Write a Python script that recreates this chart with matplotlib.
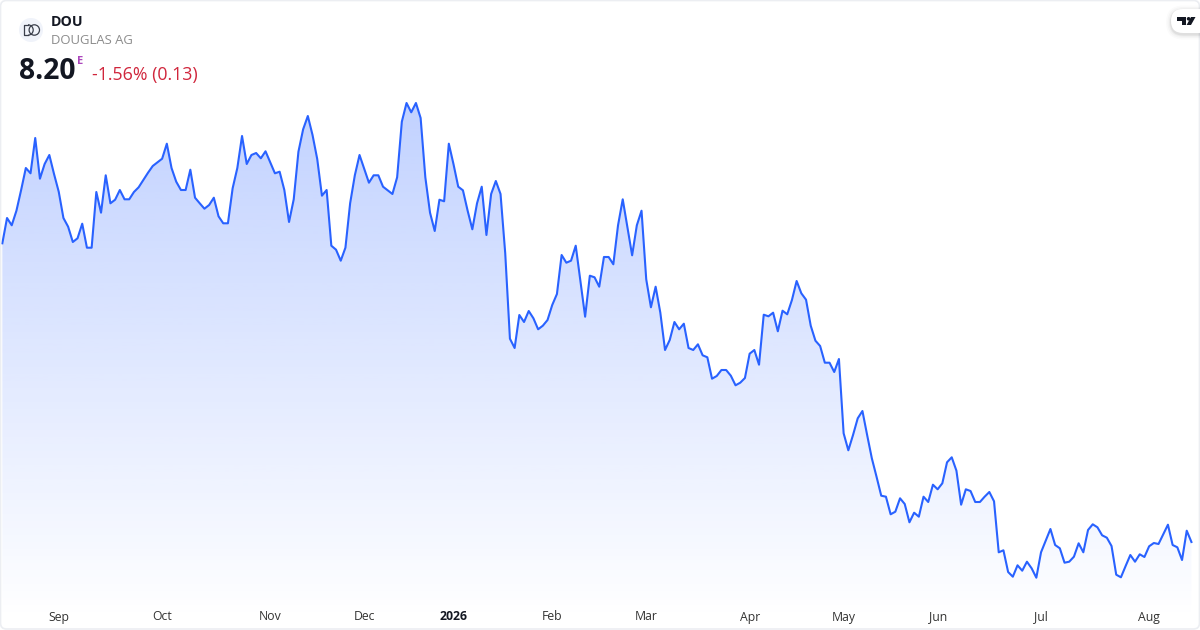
import matplotlib
matplotlib.use("Agg")
import matplotlib.pyplot as plt
import numpy as np
from matplotlib.patches import Arc, Circle, FancyBboxPatch, Polygon

plt.rcParams["font.family"] = ["Open Sans", "DejaVu Sans"]

symbol = "DOU"
company = "DOUGLAS AG"
last_price = "8.20"
change_text = "-1.56% (0.13)"

# daily closes (price scale estimated from the last value)
closes = [
    11.187, 11.44, 11.367, 11.513, 11.72, 11.94, 11.887, 12.24, 11.833, 11.98,
    12.07, 11.88, 11.703, 11.44, 11.353, 11.20, 11.237, 11.383, 11.143, 11.143,
    11.70, 11.493, 11.867, 11.587, 11.623, 11.72, 11.627, 11.627, 11.70, 11.747,
    11.82, 11.893, 11.96, 11.997, 12.033, 12.183, 11.94, 11.803, 11.72, 11.72,
    11.923, 11.643, 11.587, 11.533, 11.57, 11.643, 11.457, 11.387, 11.387, 11.737,
    11.94, 12.26, 11.98, 12.07, 12.09, 12.037, 12.107, 11.997, 11.887, 11.903,
    11.72, 11.40, 11.627, 12.103, 12.327, 12.46, 12.27, 12.03, 11.663, 11.72,
    11.163, 11.123, 11.013, 11.143, 11.587, 11.867, 12.07, 11.933, 11.793, 11.867,
    11.867, 11.753, 11.717, 11.68, 11.847, 12.403, 12.59, 12.497, 12.59, 12.44,
    11.847, 11.493, 11.31, 11.623, 11.607, 12.183, 11.977, 11.753, 11.717, 11.513,
    11.327, 11.587, 11.753, 11.27, 11.68, 11.81, 11.68, 11.087, 10.233, 10.14,
    10.47, 10.40, 10.51, 10.437, 10.327, 10.363, 10.42, 10.57, 10.68, 11.07,
    10.993, 11.013, 11.163, 10.81, 10.453, 10.863, 10.847, 10.753, 11.05, 11.05,
    10.977, 11.367, 11.627, 11.347, 11.067, 11.367, 11.513, 10.827, 10.547, 10.753,
    10.493, 10.12, 10.22, 10.40, 10.327, 10.383, 10.14, 10.12, 10.177, 10.067,
    10.047, 9.833, 9.86, 9.92, 9.92, 9.863, 9.767, 9.793, 9.84, 10.083,
    10.12, 9.973, 10.473, 10.457, 10.493, 10.307, 10.513, 10.477, 10.62, 10.81,
    10.687, 10.623, 10.363, 10.213, 10.16, 9.993, 9.993, 9.90, 10.03, 9.287,
    9.117, 9.27, 9.437, 9.51, 9.27, 9.037, 8.853, 8.663, 8.653, 8.477,
    8.503, 8.637, 8.58, 8.397, 8.493, 8.453, 8.653, 8.60, 8.773, 8.727,
    8.787, 8.997, 9.047, 8.913, 8.573, 8.727, 8.71, 8.60, 8.60, 8.653,
    8.70, 8.607, 8.097, 8.117, 7.90, 7.853, 7.967, 7.913, 8.003, 7.937,
    7.843, 8.097, 8.213, 8.33, 8.17, 8.137, 7.993, 8.003, 8.053, 8.187,
    8.097, 8.32, 8.377, 8.347, 8.267, 8.243, 8.16, 7.873, 7.847, 7.96,
    8.07, 8.003, 8.077, 8.05, 8.157, 8.19, 8.18, 8.277, 8.373, 8.17,
    8.147, 8.02, 8.313, 8.20,
]
month_labels = ["Sep", "Oct", "Nov", "Dec", "2026", "Feb", "Mar", "Apr", "May", "Jun", "Jul", "Aug"]
month_index = [12, 34, 57, 77, 96, 117, 137, 159, 179, 199, 221, 244]

line_color = "#2962FF"
x = np.arange(len(closes))
x_range = (-2.33 / 4.70, (1200 - 2.33) / 4.70)
y_range = (7.32, 13.62)

fig = plt.figure(figsize=(12, 6.3), dpi=100, facecolor="white")
ax = fig.add_axes([0, 0, 1, 1])

# gradient under the line, clipped to the area below it
top = max(closes) + 0.02
bottom = 7.42
rgba = np.zeros((256, 1, 4))
rgba[..., :3] = matplotlib.colors.to_rgb(line_color)
rgba[:, 0, 3] = np.linspace(0.29, 0.0, 256)
img = ax.imshow(rgba, extent=(x[0], x[-1], bottom, top), aspect="auto", zorder=1,
                interpolation="bilinear")
area = Polygon(np.column_stack([np.r_[x, x[-1], x[0]], np.r_[closes, bottom, bottom]]),
               closed=True, transform=ax.transData, facecolor="none", edgecolor="none")
ax.add_patch(area)
img.set_clip_path(area)

ax.plot(x, closes, color=line_color, lw=1.5, zorder=3, solid_joinstyle="round")
ax.set_xlim(*x_range)
ax.set_ylim(*y_range)
ax.axis("off")

# month labels along the bottom
for pos, label in zip(month_index, month_labels):
    is_year = label == "2026"
    ax.text(pos, 13 / 630, label, transform=ax.get_xaxis_transform(), ha="center", va="center",
            fontsize=8.8, color="#131722" if is_year else "#333333",
            fontweight="bold" if is_year else "normal", zorder=5)

# overlay in pixel coordinates for the header and card
px = fig.add_axes([0, 0, 1, 1], facecolor="none")
px.set_xlim(0, 1200)
px.set_ylim(630, 0)
px.axis("off")

px.add_patch(FancyBboxPatch((0.5, 0.5), 1199, 628.5, boxstyle="round,pad=0,rounding_size=6",
                            facecolor="none", edgecolor="#ECEEF2", lw=1.2, zorder=6))

# logo
logo_ink = "#3A3F4B"
px.add_patch(Circle((31, 30), 12, facecolor="#F0F3FA", edgecolor="none", zorder=6))
px.add_patch(Circle((34.3, 30), 5.2, facecolor="none", edgecolor=logo_ink, lw=0.9, zorder=7))
px.add_patch(Arc((28, 30), 10.4, 10.4, theta1=-90, theta2=90, edgecolor=logo_ink, lw=0.9, zorder=7))
px.plot([28, 23.5, 23.5, 28], [24.8, 24.8, 35.2, 35.2], color=logo_ink, lw=0.9, zorder=7)

px.text(51, 21.5, symbol, fontsize=10.2, fontweight="bold", color="#131722", va="center", ha="left", zorder=7)
px.text(51, 41, company, fontsize=9.45, color="#8C8C8C", va="center", ha="left", zorder=7)
px.text(19, 71.5, last_price, fontsize=20.3, fontweight="bold", color="#131722", va="center", ha="left", zorder=7)
px.text(77.5, 61.5, "E", fontsize=8, fontweight="bold", color="#AB47BC", va="center", ha="left", zorder=7)
px.text(92, 75, change_text, fontsize=12.8, color="#D0263C", va="center", ha="left", zorder=7)

# TradingView badge with a soft shadow
for grow, alpha in [(5, 0.015), (3.5, 0.025), (2, 0.035), (1, 0.05)]:
    px.add_patch(FancyBboxPatch((1171 - grow, 9 - grow + 1.5), 40 + grow * 2, 24 + grow * 2,
                                boxstyle="round,pad=0,rounding_size=%.1f" % (12 + grow),
                                facecolor="black", edgecolor="none", alpha=alpha, zorder=7))
px.add_patch(FancyBboxPatch((1171, 9), 40, 24, boxstyle="round,pad=0,rounding_size=12",
                            facecolor="white", edgecolor="none", zorder=8))
glyph = "#131722"
px.add_patch(Polygon([(1177, 17), (1186, 17), (1186, 25), (1182, 25), (1182, 20.5), (1177, 20.5)],
                     closed=True, facecolor=glyph, edgecolor="none", zorder=9))
px.add_patch(Circle((1188.6, 18.8), 1.8, facecolor=glyph, edgecolor="none", zorder=9))
px.add_patch(Polygon([(1191, 17), (1195.5, 17), (1191, 25), (1186.6, 25)],
                     closed=True, facecolor=glyph, edgecolor="none", zorder=9))

fig.savefig("out.png", dpi=100)
